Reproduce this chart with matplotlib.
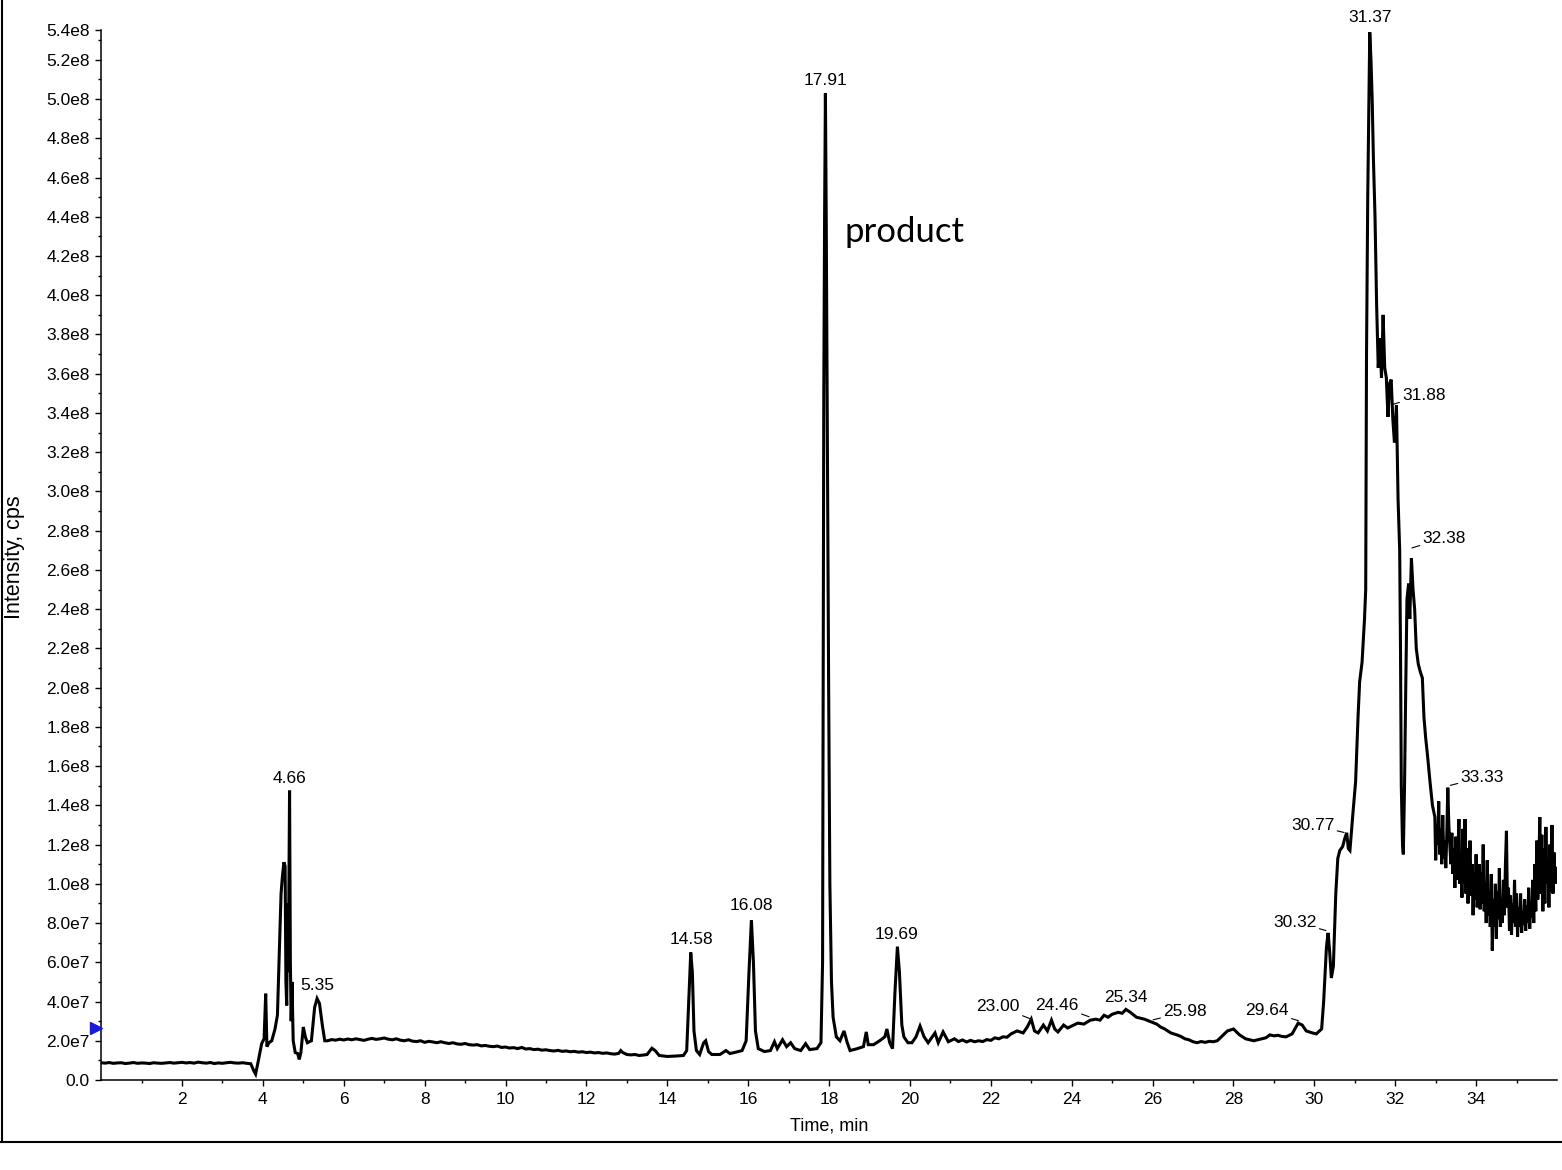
import matplotlib
matplotlib.use("Agg")
import matplotlib.pyplot as plt
from matplotlib.lines import Line2D
import numpy as np

plt.rcParams['font.family'] = ['Liberation Sans', 'DejaVu Sans']

# ---- data (time in min, intensity in units of 1e7 cps) ----
# segment 1: flat baseline 0 - 3.7 min
seg1_t = [0.0, 0.1, 0.2, 0.3, 0.4, 0.5, 0.6, 0.7, 0.8, 0.9, 1.0, 1.1, 1.2, 1.3, 1.4, 1.5, 1.6, 1.7, 1.8,
          1.9, 2.0, 2.1, 2.2, 2.3, 2.4, 2.5, 2.6, 2.7, 2.8, 2.9, 3.0, 3.1, 3.2, 3.3, 3.4, 3.5, 3.6, 3.7]
seg1_i = [0.88, 0.86, 0.89, 0.85, 0.87, 0.88, 0.84, 0.86, 0.89, 0.85, 0.87, 0.86, 0.84, 0.88, 0.86, 0.85,
          0.87, 0.89, 0.86, 0.88, 0.90, 0.87, 0.89, 0.86, 0.91, 0.88, 0.86, 0.89, 0.84, 0.87, 0.85, 0.88,
          0.90, 0.87, 0.86, 0.88, 0.85, 0.83]
# segment 2: early cluster 3.78 - 5.53 min
seg2_t = [3.78, 3.82, 3.88, 3.97, 4.03, 4.07, 4.1, 4.15, 4.22, 4.3, 4.36, 4.42, 4.45, 4.48, 4.52, 4.55,
          4.57, 4.59, 4.61, 4.63, 4.66, 4.68, 4.7, 4.72, 4.75, 4.8, 4.86, 4.9, 4.94, 5.0, 5.05, 5.1,
          5.2, 5.28, 5.34, 5.4, 5.47, 5.53]
seg2_i = [0.45, 0.3, 0.9, 1.85, 2.1, 4.4, 1.7, 1.9, 2.0, 2.6, 3.3, 7.5, 9.5, 10.3, 11.1, 10.9,
          5.0, 3.8, 9.0, 5.5, 14.75, 6.0, 3.0, 5.0, 2.0, 1.4, 1.35, 1.05, 1.4, 2.7, 2.2, 1.9,
          2.0, 3.7, 4.15, 3.9, 2.8, 2.0]
# segment 3: drifting baseline 5.6 - 13.5 min
seg3_t = [5.6, 5.7, 5.8, 5.9, 6.0, 6.1, 6.2, 6.3, 6.4, 6.5, 6.6, 6.7, 6.8, 6.9, 7.0, 7.1, 7.2, 7.3, 7.4,
          7.5, 7.6, 7.7, 7.8, 7.9, 8.0, 8.1, 8.2, 8.3, 8.4, 8.5, 8.6, 8.7, 8.8, 8.9, 9.0, 9.1, 9.2, 9.3,
          9.4, 9.5, 9.6, 9.7, 9.8, 9.9, 10.0, 10.1, 10.2, 10.3, 10.4, 10.5, 10.6, 10.7, 10.8, 10.9,
          11.0, 11.1, 11.2, 11.3, 11.4, 11.5, 11.6, 11.7, 11.8, 11.9, 12.0, 12.1, 12.2, 12.3, 12.4,
          12.5, 12.6, 12.7, 12.8, 12.85, 12.9, 13.0, 13.1, 13.2, 13.3, 13.4, 13.5]
seg3_i = [2.00, 2.06, 2.03, 2.08, 2.04, 2.09, 2.05, 2.10, 2.06, 2.02, 2.08, 2.12, 2.07, 2.10, 2.14, 2.08,
          2.05, 2.10, 2.03, 2.00, 2.05, 1.98, 1.96, 2.00, 1.92, 1.97, 1.94, 1.90, 1.95, 1.90, 1.86, 1.90,
          1.84, 1.82, 1.86, 1.80, 1.78, 1.80, 1.74, 1.76, 1.72, 1.70, 1.73, 1.66, 1.68, 1.63, 1.65, 1.60,
          1.66, 1.58, 1.60, 1.55, 1.57, 1.52, 1.54, 1.50, 1.48, 1.51, 1.46, 1.48, 1.44, 1.46, 1.42, 1.44,
          1.40, 1.42, 1.38, 1.40, 1.36, 1.38, 1.34, 1.32, 1.36, 1.50, 1.40, 1.30, 1.28, 1.30, 1.25, 1.27,
          1.30]
# segment 4: 13.6 - 30.18 min (peaks 14.58, 16.08, 17.91 product, 19.69, hump ~25)
seg4_t = [13.62, 13.7, 13.8, 14.0, 14.2, 14.4, 14.48, 14.53, 14.58, 14.62, 14.66, 14.72, 14.8, 14.9,
          14.95, 15.02, 15.1, 15.3, 15.45, 15.55, 15.7, 15.85, 15.95, 16.02, 16.08, 16.13, 16.18, 16.25,
          16.4, 16.55, 16.65, 16.72, 16.85, 16.95, 17.05, 17.15, 17.3, 17.42, 17.52, 17.7, 17.8, 17.84,
          17.87, 17.89, 17.91, 17.93, 17.96, 17.99, 18.02, 18.06, 18.1, 18.18, 18.27, 18.37, 18.45, 18.52,
          18.7, 18.85, 18.92, 18.97, 19.1, 19.25, 19.38, 19.43, 19.5, 19.57, 19.63, 19.69, 19.74, 19.8,
          19.85, 19.95, 20.05, 20.15, 20.25, 20.35, 20.45, 20.55, 20.62, 20.7, 20.82, 20.95, 21.1, 21.2,
          21.3, 21.4, 21.5, 21.6, 21.7, 21.8, 21.9, 22.0, 22.1, 22.2, 22.3, 22.4, 22.5, 22.65, 22.8, 22.9,
          23.0, 23.08, 23.17, 23.3, 23.4, 23.5, 23.58, 23.66, 23.8, 23.9, 24.0, 24.15, 24.3, 24.46, 24.6,
          24.7, 24.8, 24.9, 25.0, 25.15, 25.25, 25.34, 25.45, 25.6, 25.7, 25.8, 25.98, 26.1, 26.2, 26.3,
          26.45, 26.6, 26.7, 26.8, 26.9, 27.0, 27.1, 27.2, 27.3, 27.4, 27.5, 27.6, 27.7, 27.85, 28.0,
          28.15, 28.3, 28.4, 28.5, 28.6, 28.7, 28.8, 28.9, 29.0, 29.1, 29.2, 29.3, 29.45, 29.6, 29.7,
          29.8, 29.95, 30.05, 30.1, 30.18]
seg4_i = [1.62, 1.50, 1.25, 1.20, 1.22, 1.25, 1.50, 4.0, 6.5, 5.5, 2.5, 1.5, 1.3, 1.9,
          2.0, 1.45, 1.3, 1.3, 1.5, 1.35, 1.42, 1.5, 2.0, 5.5, 8.15, 6.0, 2.5, 1.6,
          1.45, 1.5, 1.95, 1.6, 2.05, 1.7, 1.9, 1.6, 1.5, 1.85, 1.55, 1.6, 1.9, 6.0,
          35.0, 44.0, 50.3, 44.0, 32.0, 20.0, 10.0, 5.0, 3.2, 2.2, 2.0, 2.5, 1.9, 1.5,
          1.6, 1.7, 2.45, 1.8, 1.8, 2.0, 2.2, 2.6, 1.9, 1.6, 4.5, 6.8, 5.5, 2.8,
          2.2, 1.9, 1.9, 2.2, 2.75, 2.2, 1.9, 2.2, 2.4, 1.9, 2.45, 1.95, 2.1, 1.96,
          2.04, 1.94, 2.02, 1.95, 2.0, 1.96, 2.06, 2.02, 2.15, 2.1, 2.2, 2.18, 2.35, 2.5, 2.4, 2.7,
          3.1, 2.5, 2.4, 2.8, 2.5, 3.05, 2.6, 2.45, 2.8, 2.65, 2.75, 2.9, 2.85, 3.05, 3.1,
          3.05, 3.3, 3.2, 3.35, 3.45, 3.4, 3.6, 3.45, 3.2, 3.15, 3.1, 2.95, 2.85, 2.7, 2.6,
          2.4, 2.3, 2.22, 2.1, 2.05, 1.95, 1.9, 1.96, 1.92, 1.97, 1.95, 2.0, 2.2, 2.5, 2.6,
          2.3, 2.1, 2.05, 2.0, 2.05, 2.1, 2.15, 2.3, 2.25, 2.28, 2.22, 2.2, 2.35, 2.9, 2.8,
          2.5, 2.4, 2.35, 2.45, 2.6]
# segment 5: main late elution 30.23 - 33.0 min
seg5_t = [30.23, 30.3, 30.34, 30.38, 30.42, 30.47, 30.53, 30.58, 30.63, 30.7, 30.75, 30.8, 30.84, 30.88,
          30.95, 31.02, 31.08, 31.12, 31.18, 31.24, 31.27, 31.29, 31.32, 31.35, 31.37, 31.4, 31.43,
          31.46, 31.5, 31.54, 31.58, 31.62, 31.66, 31.7, 31.74, 31.78, 31.82, 31.86, 31.9, 31.94, 31.98,
          32.03, 32.07, 32.11, 32.13, 32.15, 32.18, 32.2, 32.23, 32.26, 32.29, 32.33, 32.36, 32.4, 32.44,
          32.48, 32.52, 32.57, 32.62, 32.67, 32.71, 32.75, 32.8, 32.86, 32.92, 32.98]
seg5_i = [4.0, 6.8, 7.5, 6.5, 5.2, 5.8, 9.5, 11.3, 11.7, 11.9, 12.3, 12.6, 11.8, 11.7,
          13.5, 15.2, 18.5, 20.3, 21.3, 23.5, 25.0, 37.0, 45.0, 50.0, 53.4, 52.0, 50.0,
          47.0, 44.0, 39.5, 36.3, 37.8, 35.8, 39.0, 36.3, 35.8, 33.8, 35.5, 35.7, 33.7, 32.5,
          34.4, 29.6, 27.0, 22.0, 15.0, 12.0, 11.5, 15.0, 20.0, 24.5, 25.3, 23.5, 26.6, 25.0,
          24.0, 22.0, 21.2, 20.8, 20.5, 18.5, 17.5, 16.5, 15.2, 14.0, 13.4]
# segment 6: noisy tail 33.0 - 36.0 min
seg6_t = [33.0, 33.025, 33.05, 33.075, 33.1, 33.125, 33.15, 33.175, 33.2, 33.225, 33.25, 33.275, 33.3,
          33.325, 33.35, 33.375, 33.4, 33.425, 33.45, 33.475, 33.5, 33.525, 33.55, 33.575, 33.6, 33.625,
          33.65, 33.675, 33.7, 33.725, 33.75, 33.775, 33.8, 33.825, 33.85, 33.875, 33.9, 33.925, 33.95,
          33.975, 34.0, 34.025, 34.05, 34.075, 34.1, 34.125, 34.15, 34.175, 34.2, 34.225, 34.25, 34.275,
          34.3, 34.325, 34.35, 34.375, 34.4, 34.425, 34.45, 34.475, 34.5, 34.525, 34.55, 34.575, 34.6,
          34.625, 34.65, 34.675, 34.7, 34.725, 34.75, 34.775, 34.8, 34.825, 34.85, 34.875, 34.9, 34.925,
          34.95, 34.975, 35.0, 35.025, 35.05, 35.075, 35.1, 35.125, 35.15, 35.175, 35.2, 35.225, 35.25,
          35.275, 35.3, 35.325, 35.35, 35.375, 35.4, 35.425, 35.45, 35.475, 35.5, 35.525, 35.55, 35.575,
          35.6, 35.625, 35.65, 35.675, 35.7, 35.725, 35.75, 35.775, 35.8, 35.825, 35.85, 35.875, 35.9,
          35.925, 35.95, 35.975]
seg6_i = [11.2, 13.0, 12.0, 14.2, 11.5, 12.8, 11.0, 13.5, 11.3, 12.2, 10.8, 12.5, 14.9,
          13.0, 12.0, 11.0, 12.6, 10.5, 11.8, 9.8, 12.4, 10.2, 11.5, 13.3, 10.0, 11.2,
          9.3, 12.8, 10.0, 13.3, 9.5, 11.8, 9.0, 10.8, 12.2, 9.4, 11.0, 8.4, 10.6,
          9.2, 11.5, 8.8, 10.2, 11.0, 8.7, 10.6, 9.0, 12.0, 8.6, 10.0, 8.0, 11.2,
          8.4, 9.6, 7.8, 10.5, 6.6, 9.2, 7.8, 10.0, 7.2, 9.6, 8.2, 10.8, 7.8,
          9.0, 8.0, 10.2, 8.4, 11.0, 12.7, 8.8, 9.8, 7.6, 9.4, 7.4, 9.0, 8.0,
          10.2, 7.8, 9.5, 7.3, 8.8, 7.8, 9.5, 7.5, 8.6, 7.9, 9.2, 7.6, 8.9,
          8.0, 9.8, 7.7, 9.0, 8.3, 10.2, 8.0, 11.0, 8.6, 12.2, 9.2, 11.0, 13.4,
          9.5, 12.5, 8.6, 11.8, 9.0, 12.9, 10.0, 11.2, 8.8, 12.0, 9.6, 13.0, 9.5,
          11.6, 10.0, 10.8]

# peak labels
peak_labels = ["4.66", "5.35", "14.58", "16.08", "17.91", "19.69", "23.00", "24.46", "25.34",
               "25.98", "29.64", "30.32", "30.77", "31.37", "31.88", "32.38", "33.33"]
peak_times = [4.66, 5.35, 14.58, 16.08, 17.91, 19.69, 23.00, 24.46, 25.34,
              25.98, 29.64, 30.32, 30.77, 31.37, 31.88, 32.38, 33.33]
peak_heights = [14.75, 4.15, 6.5, 8.15, 50.3, 6.8, 3.1, 3.2, 3.6,
                3.05, 3.0, 7.6, 12.6, 53.4, 34.4, 27.1, 15.0]
# label text positions (layout)
label_pos = [(4.65, 15.39), (5.34, 4.84), (14.59, 7.14), (16.07, 8.87), (17.90, 50.97),
             (19.68, 7.44), (22.18, 3.77), (23.64, 3.82), (25.34, 4.23), (26.80, 3.47),
             (28.83, 3.52), (29.52, 8.05), (29.96, 12.99), (31.38, 54.18), (32.71, 34.91),
             (33.21, 27.62), (34.15, 15.44)]
has_leader = [False, False, False, False, False, False, True, True, False,
              True, True, True, True, False, True, True, True]

y_tick_values = [0, 2e7, 4e7, 6e7, 8e7, 1.0e8, 1.2e8, 1.4e8, 1.6e8, 1.8e8, 2.0e8, 2.2e8, 2.4e8,
                 2.6e8, 2.8e8, 3.0e8, 3.2e8, 3.4e8, 3.6e8, 3.8e8, 4.0e8, 4.2e8, 4.4e8, 4.6e8,
                 4.8e8, 5.0e8, 5.2e8]
y_tick_labels = ["0.0", "2.0e7", "4.0e7", "6.0e7", "8.0e7", "1.0e8", "1.2e8", "1.4e8", "1.6e8",
                 "1.8e8", "2.0e8", "2.2e8", "2.4e8", "2.6e8", "2.8e8", "3.0e8", "3.2e8", "3.4e8",
                 "3.6e8", "3.8e8", "4.0e8", "4.2e8", "4.4e8", "4.6e8", "4.8e8", "5.0e8", "5.2e8"]
y_max = 5.352e8
y_max_label = "5.4e8"
x_tick_values = [2, 4, 6, 8, 10, 12, 14, 16, 18, 20, 22, 24, 26, 28, 30, 32, 34]
x_max = 36.0
marker_level_e7 = 2.65

# ---- figure ----
W, H = 1562, 1170
fig = plt.figure(figsize=(W / 100, H / 100), dpi=100)
ax = fig.add_axes([101.1 / W, 90 / H, (1557 - 101.1) / W, 1050 / H])

t = np.array(seg1_t + seg2_t + seg3_t + seg4_t + seg5_t + seg6_t)
y = np.array(seg1_i + seg2_i + seg3_i + seg4_i + seg5_i + seg6_i) * 1e7
ax.plot(t, y, color='black', lw=2.2, solid_joinstyle='miter')

ax.set_xlim(0, x_max)
ax.set_ylim(0, y_max)
for s in ['top', 'right']:
    ax.spines[s].set_visible(False)
for s in ['left', 'bottom']:
    ax.spines[s].set_linewidth(1.1)

ax.set_xticks(x_tick_values)
ax.set_xticklabels([str(v) for v in x_tick_values])
ax.set_xticks(np.arange(1, 36, 2), minor=True)
ax.set_yticks(y_tick_values + [y_max])
ax.set_yticklabels(y_tick_labels + [y_max_label])
ax.set_yticks(np.arange(1e7, y_max, 2e7), minor=True)
ax.tick_params(axis='both', which='major', direction='out', length=4.5, width=1.0,
               labelsize=12.5, colors='black')
ax.tick_params(axis='both', which='minor', direction='out', length=2.3, width=1.0)
ax.tick_params(axis='y', which='major', pad=3.5)
ax.tick_params(axis='x', which='major', pad=4.0)

# peak labels
for txt, pt, ph, (lx, ly), lead in zip(peak_labels, peak_times, peak_heights, label_pos, has_leader):
    if lead:
        ax.annotate(txt, xy=(pt, ph * 1e7), xytext=(lx, ly * 1e7), ha='center', va='center',
                    fontsize=12.5, color='black',
                    arrowprops=dict(arrowstyle='-', lw=0.8, color='black', shrinkA=0, shrinkB=1))
    else:
        ax.text(lx, ly * 1e7, txt, ha='center', va='center', fontsize=12.5, color='black')

ax.text(18.37, 43.22e7, "product", ha='left', va='center', fontsize=25,
        family=['Lato', 'DejaVu Sans'], color='black')

# blue marker on y-axis
ax.plot([-0.12], [marker_level_e7 * 1e7], marker='>', markersize=9, color='#1a1ad6',
        clip_on=False, zorder=5)

# axis titles
fig.text(829 / W, 1 - 1126 / H, "Time, min", ha='center', va='center', fontsize=13)
fig.text(15 / W, 1 - 557 / H, "Intensity, cps", ha='center', va='center', fontsize=15.5,
         rotation=90)

# outer frame lines (left and bottom)
fig.add_artist(Line2D([1.5 / W, 1.5 / W], [1 - 1142 / H, 1.0], color='black', lw=1.5,
                      transform=fig.transFigure))
fig.add_artist(Line2D([0, 1], [1 - 1142 / H, 1 - 1142 / H], color='black', lw=1.5,
                      transform=fig.transFigure))

fig.savefig("out.png", dpi=100, facecolor='white')
